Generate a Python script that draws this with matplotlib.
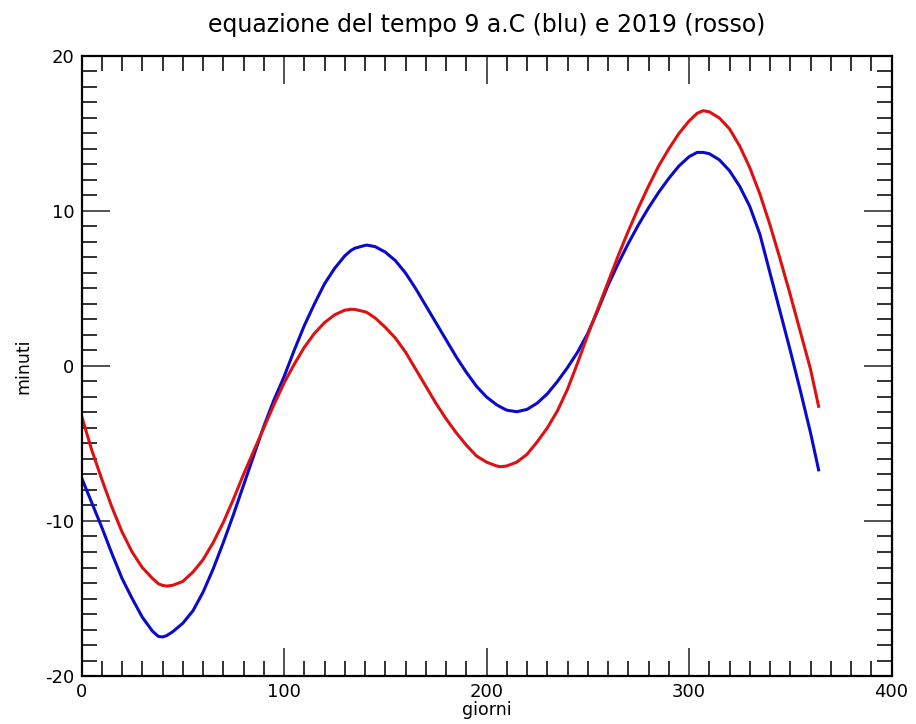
import matplotlib
matplotlib.use("Agg")
import matplotlib.pyplot as plt
from matplotlib.ticker import MultipleLocator

days = [0, 5, 10, 15, 20, 25, 30, 35, 38, 40, 42, 45, 50, 55, 60, 65, 70, 75, 80, 85, 90, 95,
        100, 105, 110, 115, 120, 125, 130, 133, 135, 140, 141, 145, 150, 155, 160, 165, 170,
        175, 180, 185, 190, 195, 200, 205, 207, 210, 215, 220, 225, 230, 235, 240, 245, 250,
        255, 260, 265, 270, 275, 280, 285, 290, 295, 300, 304, 307, 310, 315, 320, 325, 330,
        335, 340, 345, 350, 355, 360, 364]

eot_9bc = [-7.2, -8.8, -10.4, -12.1, -13.7, -15.0, -16.2, -17.1, -17.45, -17.48, -17.4, -17.15,
           -16.6, -15.8, -14.6, -13.1, -11.4, -9.6, -7.7, -5.8, -3.9, -2.2, -0.7, 1.0, 2.6,
           4.0, 5.3, 6.3, 7.1, 7.45, 7.6, 7.78, 7.8, 7.7, 7.35, 6.8, 6.0, 5.0, 3.9, 2.8, 1.7,
           0.6, -0.4, -1.3, -2.0, -2.5, -2.65, -2.85, -2.95, -2.8, -2.4, -1.8, -1.0, -0.1,
           0.9, 2.1, 3.6, 5.2, 6.6, 7.9, 9.1, 10.2, 11.2, 12.1, 12.9, 13.5, 13.78, 13.78,
           13.7, 13.3, 12.6, 11.6, 10.3, 8.5, 6.0, 3.5, 1.0, -1.6, -4.3, -6.7]

eot_2019 = [-3.2, -5.4, -7.3, -9.1, -10.7, -12.0, -13.0, -13.7, -14.05, -14.15, -14.2, -14.15,
            -13.9, -13.3, -12.5, -11.4, -10.1, -8.6, -7.0, -5.5, -4.0, -2.5, -1.1, 0.1, 1.2,
            2.1, 2.8, 3.3, 3.6, 3.66, 3.65, 3.5, 3.45, 3.1, 2.5, 1.8, 0.9, -0.2, -1.3, -2.4,
            -3.4, -4.3, -5.1, -5.8, -6.2, -6.45, -6.5, -6.45, -6.2, -5.7, -4.9, -4.0, -2.9,
            -1.5, 0.2, 2.0, 3.7, 5.4, 7.1, 8.7, 10.2, 11.6, 12.9, 14.0, 15.0, 15.8, 16.3,
            16.47, 16.4, 16.0, 15.3, 14.2, 12.8, 11.1, 9.1, 6.9, 4.6, 2.2, -0.2, -2.6]

x_ticks = [0, 100, 200, 300, 400]
y_ticks = [-20, -10, 0, 10, 20]

plt.rcParams['font.family'] = ['DejaVu Sans']
plt.rcParams['axes.unicode_minus'] = False

fig = plt.figure(figsize=(9.16, 7.24), dpi=100)
ax = fig.add_axes([81.5 / 916, 1 - 676 / 724, 810 / 916, 620 / 724])

ax.plot(days, eot_9bc, color='#0a0acc', lw=2.2, solid_joinstyle='round')
ax.plot(days, eot_2019, color='#dd1111', lw=2.2, solid_joinstyle='round')

ax.set_xlim(0, 400)
ax.set_ylim(-20, 20)
ax.set_xticks(x_ticks)
ax.set_yticks(y_ticks)
ax.xaxis.set_minor_locator(MultipleLocator(10))
ax.yaxis.set_minor_locator(MultipleLocator(1))
ax.tick_params(which='major', direction='in', length=20, width=1.1, top=True, right=True,
               labelsize=13, pad=5, color='#222222')
ax.tick_params(which='minor', direction='in', length=11, width=1.3, top=True, right=True,
               color='#222222')
for s in ax.spines.values():
    s.set_linewidth(1.6)
    s.set_color('black')

ax.set_title('equazione del tempo 9 a.C (blu) e 2019 (rosso)', fontsize=17, pad=17)
ax.set_xlabel('giorni', fontsize=12.5, labelpad=0)
ax.set_ylabel('minuti', fontsize=12.5, labelpad=9)

fig.savefig('out.png', dpi=100)
